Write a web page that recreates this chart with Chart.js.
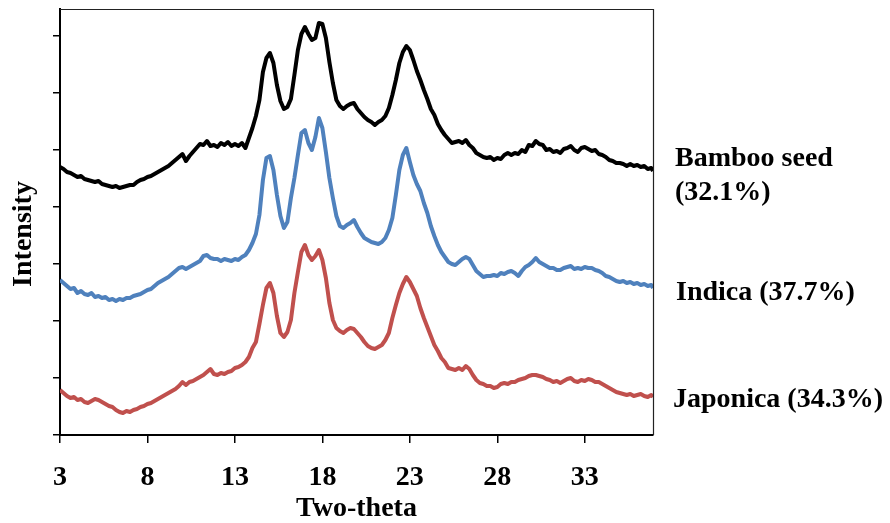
<!DOCTYPE html>
<html><head><meta charset="utf-8">
<script src="https://cdn.jsdelivr.net/npm/chart.js@4/dist/chart.umd.min.js"></script>
<style>html,body{margin:0;padding:0;background:#fff}</style>
</head><body>
<canvas id="c" width="890" height="523"></canvas>
<script>
const twoTheta=[3,3.2,3.4,3.6,3.8,4,4.2,4.4,4.6,4.8,5,5.2,5.4,5.6,5.8,6,6.2,6.4,6.6,6.8,7,7.2,7.4,7.6,7.8,8,8.2,8.4,8.6,8.8,9,9.2,9.4,9.6,9.8,10,10.2,10.4,10.6,10.8,11,11.2,11.4,11.6,11.8,12,12.2,12.4,12.6,12.8,13,13.2,13.4,13.6,13.8,14,14.2,14.4,14.6,14.8,15,15.2,15.4,15.6,15.8,16,16.2,16.4,16.6,16.8,17,17.2,17.4,17.6,17.8,18,18.2,18.4,18.6,18.8,19,19.2,19.4,19.6,19.8,20,20.2,20.4,20.6,20.8,21,21.2,21.4,21.6,21.8,22,22.2,22.4,22.6,22.8,23,23.2,23.4,23.6,23.8,24,24.2,24.4,24.6,24.8,25,25.2,25.4,25.6,25.8,26,26.2,26.4,26.6,26.8,27,27.2,27.4,27.6,27.8,28,28.2,28.4,28.6,28.8,29,29.2,29.4,29.6,29.8,30,30.2,30.4,30.6,30.8,31,31.2,31.4,31.6,31.8,32,32.2,32.4,32.6,32.8,33,33.2,33.4,33.6,33.8,34,34.2,34.4,34.6,34.8,35,35.2,35.4,35.6,35.8,36,36.2,36.4,36.6,36.8,36.9];
const bambooSeed=[268,266,263,262,260, 258,259,256,255,254, 253,254,251,250,249, 248,249,247,248,249, 250,250,253,255,256, 258,259,261,263,265, 267,269,272,275,278, 281,274,279,283,287, 291,290,294,289,290, 288,292,290,293,289, 291,289,292,287,297, 307,319,335,363,377, 382,372,350,334,326, 328,336,360,385,401, 408,401,395,397,412, 411,397,373,352,335, 329,326,329,331,332, 326,322,318,315,313, 310,313,315,319,327, 340,355,372,383,389, 385,375,364,355,345, 336,326,320,311,305, 300,296,292,293,294, 292,295,290,287,282, 280,278,277,278,275, 277,276,280,282,280, 282,281,285,283,290, 289,294,291,290,285, 286,283,284,282,286, 287,289,285,283,287, 288,286,284,285,281, 280,278,275,274,272, 272,271,269,271,269, 270,268,269,266,267, 264];
const indica=[155,152,149,146,147, 142,144,141,140,142, 138,139,137,138,135, 136,134,136,135,137, 137,139,140,141,143, 145,146,149,152,154, 156,158,161,164,167, 168,166,168,170,172, 174,179,180,177,176, 176,174,176,175,174, 176,175,178,180,185, 192,201,220,255,277, 279,265,240,219,207, 213,237,257,280,302, 305,292,285,298,317, 307,283,257,237,219, 209,207,210,212,215, 208,202,197,195,193, 192,191,193,197,205, 217,240,265,280,287, 273,260,251,244,232, 222,209,199,190,183, 178,173,171,170,173, 176,178,176,170,164, 161,158,159,159,160, 159,162,161,163,164, 162,159,164,168,170, 173,177,173,171,169, 167,167,165,165,167, 168,169,166,167,166, 168,167,167,165,164, 162,159,158,156,154, 153,154,152,153,151, 152,150,151,149,150, 147];
const japonica=[45,42,39,37,38, 35,36,33,32,34, 36,35,33,31,29, 28,25,23,22,24, 23,25,26,28,29, 31,32,34,36,38, 40,42,44,46,49, 53,50,53,54,56, 58,60,63,66,61, 60,62,61,63,64, 67,68,70,73,78, 87,93,111,130,147, 152,142,119,102,98, 103,115,142,163,183, 190,180,175,179,185, 175,157,132,115,107, 104,102,105,107,106, 102,98,93,89,87, 86,88,90,95,102, 117,130,142,151,158, 153,146,139,127,117, 108,99,90,84,77, 73,67,66,65,67, 65,69,66,60,55, 52,51,49,49,47, 48,51,52,51,53, 53,55,56,57,59, 60,60,59,58,56, 55,53,54,52,54, 56,57,54,53,55, 54,56,55,53,53, 51,49,47,45,43, 42,41,40,41,39, 40,41,39,38,40, 38];
const xTickValues=[3,8,13,18,23,28,33];
const yTickValues=[0,57,114,171,228,285,342,399];
const seriesNames=['Bamboo seed (32.1%)','Indica (37.7%)','Japonica (34.3%)'];
const xTitle='Two-theta';
const yTitle='Intensity';

const FONT='"Liberation Serif","Times New Roman",serif';
function pts(arr){return twoTheta.map((x,i)=>({x:x,y:arr[i]}));}

const textPlugin={
  id:'textPlugin',
  afterDraw(chart){
    const ctx=chart.ctx, a=chart.chartArea;
    ctx.save();
    ctx.strokeStyle='#222';ctx.lineWidth=1.2;
    ctx.beginPath();
    ctx.moveTo(a.left,a.top+0.5);ctx.lineTo(a.right+0.5,a.top+0.5);ctx.lineTo(a.right+0.5,a.bottom);
    ctx.stroke();
    ctx.fillStyle='#000';
    ctx.font='bold 28px '+FONT;
    ctx.textAlign='center';ctx.textBaseline='alphabetic';
    ctx.fillText(xTitle,(a.left+a.right)/2,516);
    ctx.save();
    ctx.translate(31,234);ctx.rotate(-Math.PI/2);
    ctx.fillText(yTitle,0,0);
    ctx.restore();
    ctx.textAlign='left';
    ctx.fillText('Bamboo seed',675,166);
    ctx.fillText('(32.1%)',675,200);
    ctx.fillText(seriesNames[1],676,300);
    ctx.fillText(seriesNames[2],673,407);
    ctx.restore();
  }
};

new Chart(document.getElementById('c'),{
  type:'line',
  data:{datasets:[
    {label:seriesNames[0],data:pts(bambooSeed),borderColor:'#000000',borderWidth:4,pointRadius:0,tension:0,borderJoinStyle:'round'},
    {label:seriesNames[1],data:pts(indica),borderColor:'#4F81BD',borderWidth:4,pointRadius:0,tension:0,borderJoinStyle:'round'},
    {label:seriesNames[2],data:pts(japonica),borderColor:'#C0504D',borderWidth:4,pointRadius:0,tension:0,borderJoinStyle:'round'}
  ]},
  options:{
    responsive:false,animation:false,
    layout:{padding:{top:9,right:237,left:0,bottom:0}},
    plugins:{legend:{display:false},tooltip:{enabled:false}},
    scales:{
      x:{type:'linear',min:3,max:36.9,
        afterBuildTicks:s=>{s.ticks=xTickValues.map(v=>({value:v}));},
        afterFit:s=>{s.height=88;},
        ticks:{font:{family:FONT,size:28,weight:'bold'},color:'#000',padding:18,maxRotation:0,autoSkip:false},
        grid:{drawOnChartArea:false,drawTicks:true,tickLength:8,color:'#000',lineWidth:1.5},
        border:{display:true,color:'#000',width:2}},
      y:{type:'linear',min:0,max:426,
        afterBuildTicks:s=>{s.ticks=yTickValues.map(v=>({value:v}));},
        afterFit:s=>{s.width=60;},
        ticks:{callback:()=>'' ,padding:0},
        grid:{drawOnChartArea:false,drawTicks:true,tickLength:7,color:'#000',lineWidth:1.5},
        border:{display:true,color:'#000',width:2}}
    }
  },
  plugins:[textPlugin]
});
</script>
</body></html>
